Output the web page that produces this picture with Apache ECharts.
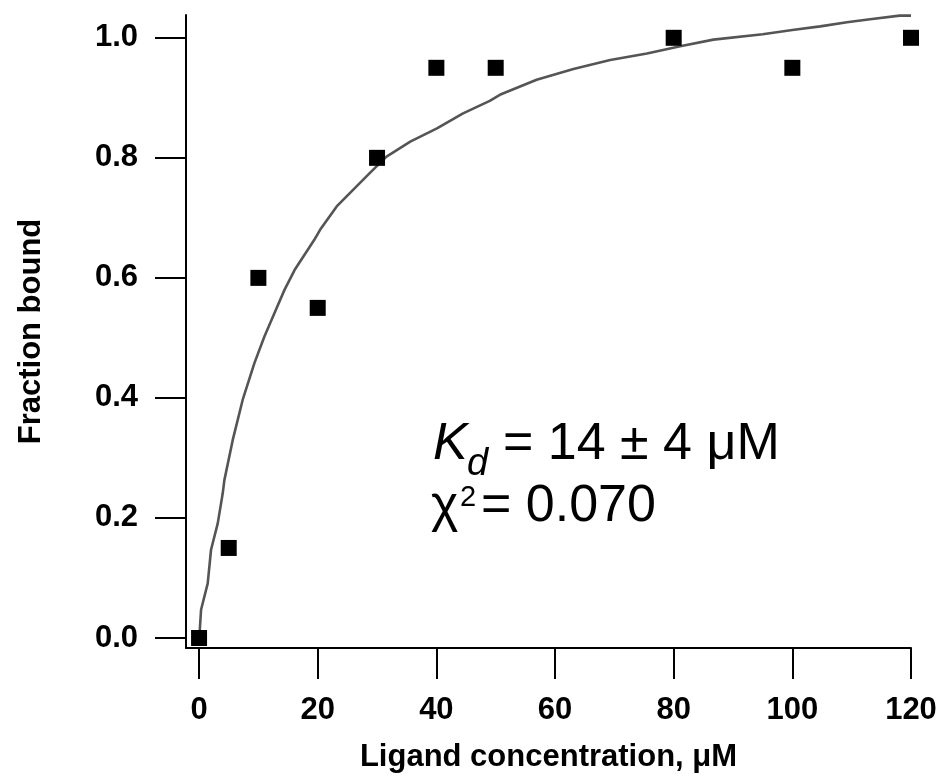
<!DOCTYPE html>
<html>
<head>
<meta charset="utf-8">
<script src="https://cdn.jsdelivr.net/npm/echarts@6/dist/echarts.min.js"></script>
<style>
html,body{margin:0;padding:0;background:#fff;}
#chart{width:944px;height:778px;}
</style>
</head>
<body>
<div id="chart"></div>
<script>
// Measured data points
var concX = [0, 5, 10, 20, 30, 40, 50, 80, 100, 120];
var fracY = [0, 0.15, 0.6, 0.55, 0.8, 0.95, 0.95, 1.0, 0.95, 1.0];

// Fit curve
var fitX = [0.05, 0.34, 1.46, 2.02, 3.15, 3.99, 4.27, 5.68, 7.36, 9.33, 11.0, 12.7, 14.4, 16.1, 19.4, 20.4, 23.2, 26.0, 28.8, 31.6, 35.6, 40.1, 44.5, 49.0, 50.7, 56.9, 63.1, 69.3, 75.5, 81.1, 86.7, 95, 100, 104.7, 109.2, 113.1, 118.1, 120];
var fitY = [0.002, 0.047, 0.091, 0.147, 0.191, 0.241, 0.263, 0.33, 0.397, 0.458, 0.502, 0.541, 0.58, 0.613, 0.663, 0.68, 0.719, 0.747, 0.775, 0.802, 0.827, 0.849, 0.874, 0.895, 0.905, 0.93, 0.948, 0.963, 0.974, 0.986, 0.997, 1.006, 1.013, 1.019, 1.026, 1.031, 1.037, 1.037];

// Tick labels
var xTicks = [0, 20, 40, 60, 80, 100, 120];
var yTicks = [0, 0.2, 0.4, 0.6, 0.8, 1.0];

var xName = 'Ligand concentration, \u03bcM';
var yName = 'Fraction bound';

var scatterData = concX.map(function (x, i) { return [x, fracY[i]]; });
var fitData = fitX.map(function (x, i) { return [x, fitY[i]]; });

var FONT = '"Liberation Sans", Arial, sans-serif';

var chart = echarts.init(document.getElementById('chart'), null, {renderer: 'canvas'});
chart.setOption({
  animation: false,
  backgroundColor: '#ffffff',
  grid: {left: 186, right: 33, top: 15, bottom: 130, containLabel: false},
  xAxis: {
    type: 'value',
    min: -2.2,
    max: 120,
    name: xName,
    nameLocation: 'middle',
    nameGap: 94,
    nameTextStyle: {fontFamily: FONT, fontWeight: 'bold', fontSize: 31, color: '#000'},
    axisLine: {show: true, onZero: false, lineStyle: {color: '#000', width: 2}},
    axisTick: {show: true, length: 31, lineStyle: {color: '#000', width: 2}, customValues: xTicks},
    axisLabel: {show: true, margin: 47, fontFamily: FONT, fontWeight: 'bold', fontSize: 31, color: '#000',
      customValues: xTicks, formatter: function (v) { return String(v); }},
    splitLine: {show: false}
  },
  yAxis: {
    type: 'value',
    min: -0.0167,
    max: 1.038,
    name: yName,
    nameLocation: 'middle',
    nameGap: 139,
    nameRotate: 90,
    nameTextStyle: {fontFamily: FONT, fontWeight: 'bold', fontSize: 31, color: '#000'},
    axisLine: {show: true, onZero: false, lineStyle: {color: '#000', width: 2}},
    axisTick: {show: true, length: 31, lineStyle: {color: '#000', width: 2}, customValues: yTicks},
    axisLabel: {show: true, margin: 48, fontFamily: FONT, fontWeight: 'bold', fontSize: 31, color: '#000',
      customValues: yTicks, formatter: function (v) { return v.toFixed(1); }},
    splitLine: {show: false}
  },
  series: [
    {
      type: 'line',
      data: fitData,
      showSymbol: false,
      smooth: false,
      lineStyle: {color: '#555555', width: 2.6},
      z: 2
    },
    {
      type: 'scatter',
      data: scatterData,
      symbol: 'rect',
      symbolSize: 16,
      itemStyle: {color: '#000000', opacity: 1},
      z: 3
    }
  ],
  graphic: [
    {type: 'text', x: 433, y: 445, style: {text: 'K', font: 'italic 52px ' + FONT, fill: '#000', textAlign: 'left', textVerticalAlign: 'middle', align: 'left', verticalAlign: 'middle'}},
    {type: 'text', x: 467, y: 464, style: {text: 'd', font: 'italic 38px ' + FONT, fill: '#000', textAlign: 'left', textVerticalAlign: 'middle', align: 'left', verticalAlign: 'middle'}},
    {type: 'text', x: 503, y: 445, style: {text: '= 14 \u00b1 4 \u03bcM', font: '52px ' + FONT, fill: '#000', textAlign: 'left', textVerticalAlign: 'middle', align: 'left', verticalAlign: 'middle'}},
    {type: 'text', x: 431, y: 507, style: {text: '\u03c7', font: '52px ' + FONT, fill: '#000', textAlign: 'left', textVerticalAlign: 'middle', align: 'left', verticalAlign: 'middle'}},
    {type: 'text', x: 460, y: 498, style: {text: '2', font: '29px ' + FONT, fill: '#000', textAlign: 'left', textVerticalAlign: 'middle', align: 'left', verticalAlign: 'middle'}},
    {type: 'text', x: 481, y: 507, style: {text: '= 0.070', font: '52px ' + FONT, fill: '#000', textAlign: 'left', textVerticalAlign: 'middle', align: 'left', verticalAlign: 'middle'}}
  ]
});
</script>
</body>
</html>
